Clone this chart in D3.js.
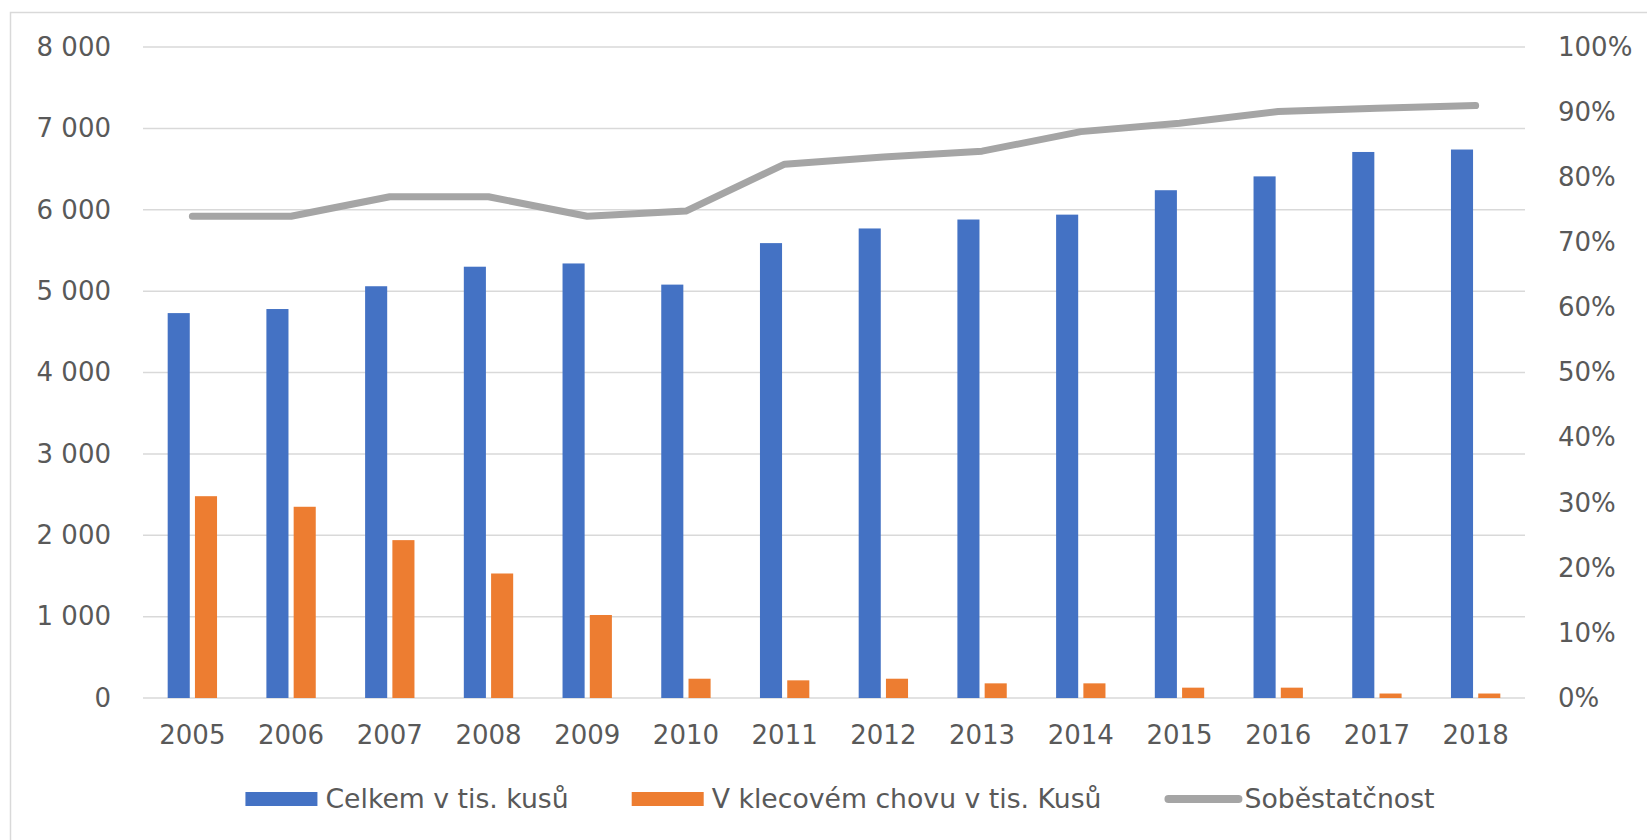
<!DOCTYPE html>
<html>
<head>
<meta charset="utf-8">
<script src="https://cdn.jsdelivr.net/npm/d3@7"></script>
<style>
  html, body { margin: 0; padding: 0; background: #fff; }
  svg { display: block; }
  text { font-family: "DejaVu Sans", sans-serif; fill: #595959; }
</style>
</head>
<body>
<svg id="chart" width="1647" height="840"></svg>
<script>
// ---- data ----
const years = ["2005","2006","2007","2008","2009","2010","2011","2012","2013","2014","2015","2016","2017","2018"];
const celkem = [4730, 4780, 5060, 5300, 5340, 5080, 5590, 5770, 5880, 5940, 6240, 6410, 6710, 6740];
const klecove = [2480, 2350, 1940, 1530, 1020, 237, 217, 237, 180, 180, 127, 127, 55, 55];
const sobestatcnost = [0.74, 0.74, 0.77, 0.77, 0.74, 0.748, 0.82, 0.831, 0.84, 0.87, 0.883, 0.901, 0.906, 0.91];
const leftTicks = [0, 1000, 2000, 3000, 4000, 5000, 6000, 7000, 8000];
const rightTicks = [0, 0.1, 0.2, 0.3, 0.4, 0.5, 0.6, 0.7, 0.8, 0.9, 1.0];
const seriesNames = ["Celkem v tis. kusů", "V klecovém chovu v tis. Kusů", "Soběstatčnost"];
const colors = ["#4472C4", "#ED7D31", "#A5A5A5"];

// ---- layout ----
const svg = d3.select("#chart");
const plot = { left: 143, right: 1525, top: 47, bottom: 698 };

// border
svg.append("rect").attr("x", 10.5).attr("y", 12.5).attr("width", 1700).attr("height", 900)
  .attr("fill", "none").attr("stroke", "#D9D9D9").attr("stroke-width", 1.5);

const x0 = d3.scaleBand().domain(years).range([plot.left, plot.right])
  .paddingInner(0.5).paddingOuter(0.25);
const x1 = d3.scaleBand().domain([0, 1]).range([0, x0.bandwidth()]).paddingInner(0.19);
const yL = d3.scaleLinear().domain([0, 8000]).range([plot.bottom, plot.top]);
const yR = d3.scaleLinear().domain([0, 1]).range([plot.bottom, plot.top]);

const fmtThousands = d3.formatLocale({ decimal: ",", thousands: " ", grouping: [3], currency: ["", ""] }).format(",d");

// gridlines
svg.append("g").selectAll("line").data(leftTicks).join("line")
  .attr("x1", plot.left).attr("x2", plot.right)
  .attr("y1", d => yL(d)).attr("y2", d => yL(d))
  .attr("stroke", "#D9D9D9").attr("stroke-width", 1.5);

// left axis
const axL = d3.axisLeft(yL).tickValues(leftTicks).tickFormat(fmtThousands).tickSize(0).tickPadding(0);
const gL = svg.append("g").attr("transform", "translate(111,0)").call(axL);
gL.select(".domain").remove();
gL.selectAll("text").style("font-family", "DejaVu Sans").style("font-size", "26px").attr("fill", "#595959");

// right axis
const axR = d3.axisRight(yR).tickValues(rightTicks).tickFormat(d3.format(".0%")).tickSize(0).tickPadding(0);
const gR = svg.append("g").attr("transform", "translate(1558,0)").call(axR);
gR.select(".domain").remove();
gR.selectAll("text").style("font-family", "DejaVu Sans").style("font-size", "26px").attr("fill", "#595959");

// bottom axis
const axB = d3.axisBottom(x0).tickSize(0).tickPadding(0);
const gB = svg.append("g").attr("transform", `translate(0,${plot.bottom})`).call(axB);
gB.select(".domain").remove();
gB.selectAll("text").style("font-family", "DejaVu Sans").style("font-size", "26px")
  .attr("fill", "#595959").attr("dy", null).attr("y", 46);

// bars
const bars = svg.append("g");
years.forEach((yr, i) => {
  [celkem[i], klecove[i]].forEach((v, s) => {
    bars.append("rect")
      .attr("x", x0(yr) + x1(s)).attr("width", x1.bandwidth())
      .attr("y", yL(v)).attr("height", yL(0) - yL(v))
      .attr("fill", colors[s]);
  });
});

// line
const line = d3.line().x((d, i) => x0(years[i]) + x0.bandwidth() / 2).y(d => yR(d));
svg.append("path").datum(sobestatcnost).attr("d", line)
  .attr("fill", "none").attr("stroke", colors[2]).attr("stroke-width", 7)
  .attr("stroke-linecap", "round").attr("stroke-linejoin", "round");

// legend
const leg = svg.append("g");
const symW = 72, symGap = 8, itemGap = 63, legCenter = 840, legY = 799;
const items = seriesNames.map((name, i) => {
  const g = leg.append("g");
  if (i < 2) {
    g.append("rect").attr("x", 0).attr("y", -7).attr("width", symW).attr("height", 14).attr("fill", colors[i]);
  } else {
    g.append("line").attr("x1", 4).attr("x2", symW + 2).attr("y1", 0).attr("y2", 0)
      .attr("stroke", colors[i]).attr("stroke-width", 8).attr("stroke-linecap", "round");
  }
  const t = g.append("text").attr("x", symW + symGap).attr("y", 9).style("font-size", "26.7px").text(name);
  return { g, w: symW + symGap + t.node().getComputedTextLength() };
});
const total = d3.sum(items, d => d.w) + itemGap * (items.length - 1);
let cx = legCenter - total / 2;
items.forEach(it => { it.g.attr("transform", `translate(${cx},${legY})`); cx += it.w + itemGap; });
</script>
</body>
</html>
